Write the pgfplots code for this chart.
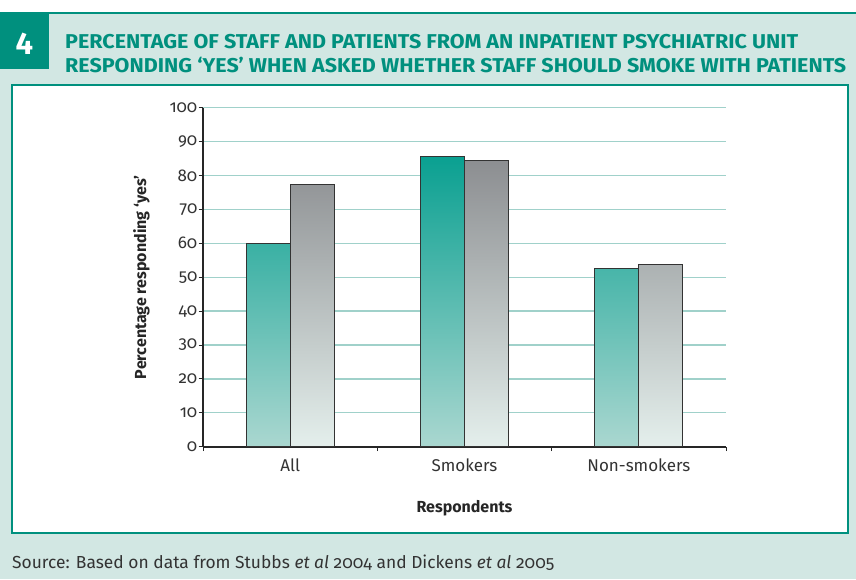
\documentclass[border=0pt]{standalone}
\usepackage{pgfplots}
\pgfplotsset{compat=1.18}
\usepackage{fontspec}
\setmainfont{Fira Sans}[Numbers=OldStyle]
\newfontfamily\linfont{Fira Sans}[Numbers=Lining]
\usepackage{graphicx}
\definecolor{bg}{HTML}{D2E7E3}
\definecolor{tealdark}{HTML}{00907E}
\definecolor{gridc}{HTML}{A0D1CA}
\definecolor{tealtop}{HTML}{0AA091}
\definecolor{tealbot}{HTML}{AAD7D0}
\definecolor{greytop}{HTML}{8C8E91}
\definecolor{greybot}{HTML}{E4EFEC}
\definecolor{txt}{HTML}{333333}
\begin{document}
\begin{tikzpicture}[x=1pt,y=1pt]
\useasboundingbox (0,0) rectangle (856,579);
\fill[bg] (0,0) rectangle (856,579);
\fill[white] (0,566) rectangle (856,579);
\draw[tealdark, line width=1.6pt] (0,566) -- (856,566);
\fill[tealdark] (0,566) rectangle (49,510);
\node[anchor=base, inner sep=0, text=white] at (24.5,524) {\linfont\fontsize{31pt}{34pt}\selectfont\bfseries 4};
\node[anchor=base west, inner sep=0, text=tealdark] at (65,530) {\resizebox{733pt}{\height}{\fontsize{20pt}{24pt}\selectfont\bfseries PERCENTAGE OF STAFF AND PATIENTS FROM AN INPATIENT PSYCHIATRIC UNIT}};
\node[anchor=base west, inner sep=0, text=tealdark] at (65,506) {\resizebox{781pt}{\height}{\fontsize{20pt}{24pt}\selectfont\bfseries RESPONDING ‘YES’ WHEN ASKED WHETHER STAFF SHOULD SMOKE WITH PATIENTS}};
\filldraw[fill=white, draw=tealdark, line width=1.6pt] (12,494) rectangle (848,46);
\node[anchor=base west, inner sep=0, text=txt] at (12,11) {\fontsize{17.4pt}{21pt}\selectfont Source: Based on data from Stubbs \textit{et al} 2004 and Dickens \textit{et al} 2005};
\begin{axis}[
  at={(203pt,132.3pt)}, anchor=south west,
  scale only axis, width=523pt, height=339.1pt,
  xmin=-0.5, xmax=2.5, ymin=0, ymax=100,
  axis x line=bottom, axis y line=left,
  axis line style={-, line width=1.6pt, black!85},
  ytick={0,10,...,100},
  xtick={-0.5,0.5,1.5,2.5}, xticklabels={},
  extra x ticks={0,1,2},
  extra x tick labels={All,Smokers,Non-smokers},
  extra x tick style={major tick length=0pt, grid=none},
  tick align=outside, major tick length=4.5pt,
  tick style={black!85, line width=0.8pt},
  ymajorgrids, grid style={gridc, line width=1.3pt},
  /pgf/number format/assume math mode=true,
  ticklabel style={font=\fontsize{17pt}{20pt}\selectfont, text=txt},
  yticklabel style={inner sep=1pt},
  xticklabel style={anchor=base, yshift=-25pt},
  ylabel={Percentage responding ‘yes’},
  ylabel style={at={(axis description cs:-0.118,0.5)}, anchor=center, font=\fontsize{16pt}{19pt}\selectfont\bfseries, text=black!85},
  xlabel={Respondents},
  xlabel style={at={(axis description cs:0.5,0)}, anchor=base, yshift=-66pt, font=\fontsize{16pt}{19pt}\selectfont\bfseries, text=black!85},
  ybar=0pt, bar width=44pt,
]
\addplot[draw=black!80, line width=1.2pt, top color=tealtop, bottom color=tealbot] coordinates {(0,60) (1,85.5) (2,52.6)};
\addplot[draw=black!80, line width=1.2pt, top color=greytop, bottom color=greybot] coordinates {(0,77.4) (1,84.5) (2,53.8)};
\end{axis}
\end{tikzpicture}
\end{document}
